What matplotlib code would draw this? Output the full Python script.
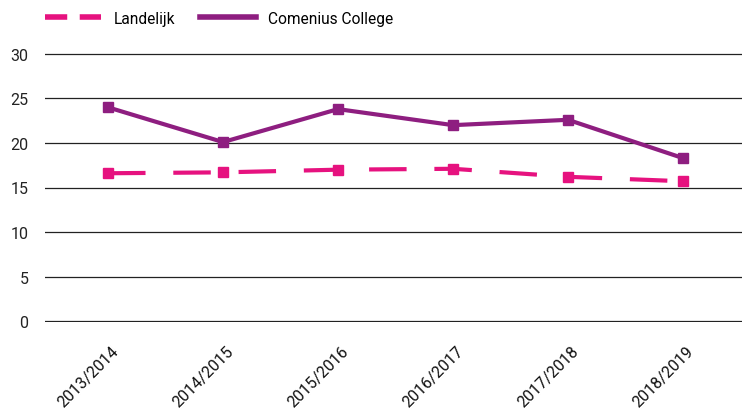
import matplotlib.pyplot as plt
import matplotlib.transforms as mtransforms
from matplotlib.lines import Line2D

plt.rcParams['font.family'] = ['Roboto', 'DejaVu Sans']
plt.rcParams['lines.scale_dashes'] = False

# Schooljaren en percentages
years = ['2013/2014', '2014/2015', '2015/2016', '2016/2017', '2017/2018', '2018/2019']
landelijk = [16.6, 16.7, 17.0, 17.1, 16.2, 15.7]
comenius = [24.0, 20.1, 23.8, 22.0, 22.6, 18.3]
y_ticks = [0, 5, 10, 15, 20, 25, 30]

pink = '#E6127F'
purple = '#8E1E80'

fig = plt.figure(figsize=(7.42, 4.14), dpi=100)
ax = fig.add_axes([45 / 742, 1 - 323 / 414, 697 / 742, 269 / 414])

x = range(len(years))
ax.plot(x, landelijk, color=pink, lw=3, dashes=(27, 20), marker='s',
        markersize=7, zorder=3, clip_on=False)
ax.plot(x, comenius, color=purple, lw=3, marker='s', markersize=7,
        zorder=4, clip_on=False)

ax.set_ylim(-0.1, 30.1)
ax.set_xlim(-0.548, 5.513)
ax.set_yticks(y_ticks)
ax.yaxis.grid(True, color='#222222', lw=0.9)
ax.set_axisbelow(True)
ax.set_xticks(list(x))
ax.set_xticklabels([])
ax.tick_params(axis='x', length=0)
ax.tick_params(axis='y', length=0, pad=12, labelsize=11.5, labelcolor='#222222')
for s in ax.spines.values():
    s.set_visible(False)

# Schuine jaarlabels onder de as
offset = mtransforms.ScaledTranslation(8 / 100, -26 / 100, fig.dpi_scale_trans)
for i, year in enumerate(years):
    ax.text(i, 0, year, transform=ax.get_xaxis_transform() + offset,
            rotation=45, ha='right', va='center', rotation_mode='anchor',
            fontsize=11.5, color='#111111')

# Legenda boven de grafiek
handles = [
    Line2D([], [], color=pink, lw=4, dashes=(16, 9)),
    Line2D([], [], color=purple, lw=4),
]
fig.legend(handles, ['Landelijk', 'Comenius College'], loc='upper left',
           bbox_to_anchor=(45 / 742 - 0.019, 1.005), ncol=2, frameon=False,
           fontsize=11.2, handlelength=3.6, handletextpad=0.8,
           columnspacing=1.6)

fig.savefig('out.png', dpi=100)
